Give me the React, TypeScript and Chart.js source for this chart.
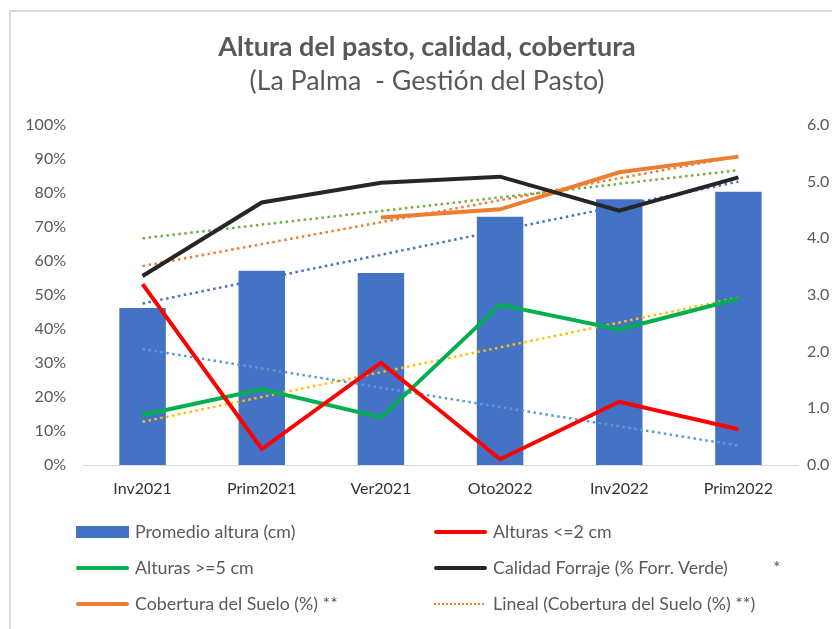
import React, { useEffect, useRef } from 'react';
import { Chart, registerables } from 'chart.js';
Chart.register(...registerables);

const categories = ['Inv2021', 'Prim2021', 'Ver2021', 'Oto2022', 'Inv2022', 'Prim2022'];
const promedioAltura = [2.77, 3.43, 3.39, 4.38, 4.69, 4.82];
const alturasMenor2 = [53.2, 4.7, 30.1, 1.7, 18.6, 10.5];
const alturasMayor5 = [14.7, 22.3, 14.0, 47.1, 39.9, 48.9];
const calidadForraje = [55.6, 77.2, 83.0, 84.8, 74.8, 84.6];
const coberturaSuelo = [null, null, 72.8, 75.2, 86.1, 90.7];

// trendline start / end values
const trendPromedio = [2.85, 5.0];
const trendMenor2 = [34.1, 5.7];
const trendMayor5 = [12.7, 49.2];
const trendCalidad = [66.7, 86.7];
const trendCobertura = [58.5, 90.8];

const leftTicks = [0, 10, 20, 30, 40, 50, 60, 70, 80, 90, 100];
const rightTicks = [0, 1, 2, 3, 4, 5, 6];

const titleText = 'Altura del pasto, calidad, cobertura';
const subtitleText = '(La Palma  - Gestión del Pasto)';

const FONT = 'Lato, "Open Sans", sans-serif';

function endpoints(t: number[]) {
  return categories.map((_, i) => (i === 0 ? t[0] : i === categories.length - 1 ? t[1] : null));
}

function trendDs(t: number[], color: string, axis: string, order: number) {
  return {
    type: 'line' as const,
    data: endpoints(t),
    borderColor: color,
    borderWidth: 2.5,
    borderDash: [2.5, 3.5],
    pointRadius: 0,
    spanGaps: true,
    fill: false,
    yAxisID: axis,
    order,
  };
}

function lineDs(label: string, data: (number | null)[], color: string) {
  return {
    type: 'line' as const,
    label,
    data,
    borderColor: color,
    backgroundColor: color,
    borderWidth: 4,
    pointRadius: 0,
    fill: false,
    yAxisID: 'y',
    order: 0,
    spanGaps: false,
  };
}

const legendItems = [
  { label: 'Promedio altura (cm)', kind: 'bar', color: '#4472C4', col: 0, row: 0 },
  { label: 'Alturas <=2 cm', kind: 'line', color: '#FF0000', col: 1, row: 0 },
  { label: 'Alturas >=5 cm', kind: 'line', color: '#00B050', col: 0, row: 1 },
  { label: 'Calidad Forraje (% Forr. Verde)', kind: 'line', color: '#262626', col: 1, row: 1 },
  { label: 'Cobertura del Suelo (%) **', kind: 'line', color: '#ED7D31', col: 0, row: 2 },
  { label: 'Lineal (Cobertura del Suelo (%) **)', kind: 'dot', color: '#ED7D31', col: 1, row: 2 },
];

export default function App() {
  const ref = useRef<HTMLCanvasElement>(null);
  useEffect(() => {
    const chart = new Chart(ref.current!, {
      type: 'bar',
      data: {
        labels: categories,
        datasets: [
          {
            type: 'bar',
            label: 'Promedio altura (cm)',
            data: promedioAltura,
            backgroundColor: '#4472C4',
            yAxisID: 'y1',
            barPercentage: 0.39,
            categoryPercentage: 1,
            order: 1,
          } as any,
          lineDs('Alturas <=2 cm', alturasMenor2, '#FF0000'),
          lineDs('Alturas >=5 cm', alturasMayor5, '#00B050'),
          lineDs('Calidad Forraje (% Forr. Verde)', calidadForraje, '#262626'),
          lineDs('Cobertura del Suelo (%) **', coberturaSuelo, '#ED7D31'),
          trendDs(trendPromedio, '#4472C4', 'y1', 2),
          trendDs(trendMenor2, '#5B9BD5', 'y', 0.5),
          trendDs(trendMayor5, '#FFC000', 'y', 0.5),
          trendDs(trendCalidad, '#70AD47', 'y', 0.5),
          trendDs(trendCobertura, '#ED7D31', 'y', 0.5),
        ] as any,
      },
      options: {
        animation: false,
        responsive: false,
        maintainAspectRatio: false,
        layout: { padding: { top: 125, bottom: 124, left: 0, right: 0 } },
        plugins: {
          legend: { display: false },
          tooltip: { enabled: false },
          title: { display: false },
        },
        scales: {
          x: {
            grid: { display: false, drawTicks: false },
            border: { display: true, color: '#D9D9D9', width: 1 },
            ticks: { color: '#333333', font: { family: FONT, size: 16 }, padding: 14, maxRotation: 0 },
            afterFit: (s: any) => { s.height = 40; },
          },
          y: {
            position: 'left',
            min: 0,
            max: 100,
            afterBuildTicks: (s: any) => { s.ticks = leftTicks.map((v) => ({ value: v })); },
            ticks: { color: '#595959', font: { family: FONT, size: 16 }, padding: 17, callback: (v: any) => v + '%' },
            grid: { display: false, drawTicks: false },
            border: { display: false },
            afterFit: (s: any) => { s.width = 83; },
          },
          y1: {
            position: 'right',
            min: 0,
            max: 6,
            afterBuildTicks: (s: any) => { s.ticks = rightTicks.map((v) => ({ value: v })); },
            ticks: { color: '#595959', font: { family: FONT, size: 16 }, padding: 9, callback: (v: any) => Number(v).toFixed(1) },
            grid: { display: false, drawTicks: false },
            border: { display: false },
            afterFit: (s: any) => { s.width = 34; },
          },
        },
      } as any,
    });
    return () => chart.destroy();
  }, []);

  const rowY = [532, 568, 604];
  const markX = [76, 434];
  const textX = [135, 493];

  return (
    <div style={{ position: 'fixed', left: 0, top: 0, width: 832, height: 629, overflow: 'hidden', background: '#fff', fontFamily: FONT }}>
      <div style={{ position: 'absolute', left: 9, top: 10, width: 900, height: 700, borderLeft: '2px solid #D9D9D9', borderTop: '2px solid #D9D9D9' }} />
      <canvas ref={ref} width={832} height={629} style={{ position: 'absolute', left: 0, top: 0, width: 832, height: 629 }} />
      <div style={{ position: 'absolute', left: 0, width: 854, top: 45, transform: 'translateY(-50%)', textAlign: 'center', fontWeight: 700, fontSize: 27, color: '#595959', lineHeight: 1, whiteSpace: 'nowrap' }}>{titleText}</div>
      <div style={{ position: 'absolute', left: 0, width: 854, top: 80, transform: 'translateY(-50%)', textAlign: 'center', fontSize: 26.8, color: '#595959', lineHeight: 1, whiteSpace: 'pre' }}>{subtitleText}</div>
      {legendItems.map((it, i) => {
        const y = rowY[it.row];
        const mx = markX[it.col];
        let marker;
        if (it.kind === 'bar') {
          marker = <div style={{ position: 'absolute', left: mx, top: y - 6, width: 53, height: 12, background: it.color }} />;
        } else if (it.kind === 'line') {
          marker = <div style={{ position: 'absolute', left: mx, top: y - 2, width: 53, height: 4, borderRadius: 2, background: it.color }} />;
        } else {
          marker = <div style={{ position: 'absolute', left: mx, top: y - 1, width: 50, height: 0, borderTop: '2px dotted ' + it.color }} />;
        }
        return (
          <React.Fragment key={i}>
            {marker}
            <div style={{ position: 'absolute', left: textX[it.col], top: y, transform: 'translateY(-50%)', fontSize: 17.8, color: '#595959', lineHeight: 1, whiteSpace: 'nowrap' }}>{it.label}</div>
          </React.Fragment>
        );
      })}
      <div style={{ position: 'absolute', left: 773, top: 568, transform: 'translateY(-50%)', fontSize: 17.8, color: '#595959', lineHeight: 1 }}>*</div>
    </div>
  );
}
